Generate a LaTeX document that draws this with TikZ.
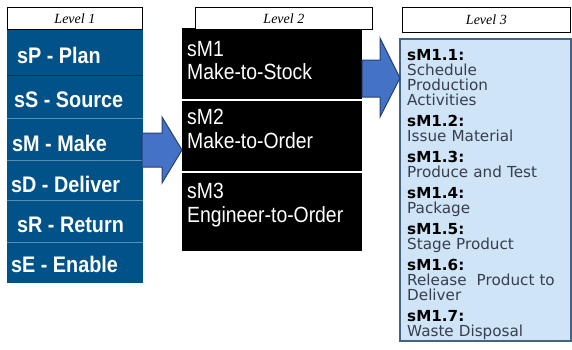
\documentclass[tikz,border=0pt]{standalone}
\usepackage{fontspec}
\setmainfont{Liberation Serif}
\setsansfont{DejaVu Sans}
\newfontfamily\condfont[FakeStretch=0.88]{Liberation Sans}
\usetikzlibrary{positioning}
\definecolor{scorblue}{RGB}{0,82,136}
\definecolor{arrowfill}{RGB}{68,114,196}
\definecolor{arrowline}{RGB}{36,64,120}
\definecolor{lvlthree}{RGB}{207,228,247}
\definecolor{lvlthreeline}{RGB}{70,100,130}
\definecolor{bodytext}{RGB}{55,62,78}
\newcommand{\stephead}[1]{\textcolor{black}{\bfseries #1}}
\setlength{\lineskiplimit}{-10pt}

\begin{document}
\begin{tikzpicture}[x=1pt, y=-1pt,
lvlbox/.style = {draw, line width=0.8pt, fill=white, inner sep=0pt, anchor=north west,
                 font=\itshape\fontsize{14}{15}\selectfont},
lvlone/.style = {anchor=base west, inner sep=0pt, text=white,
                 font=\condfont\bfseries\fontsize{22.5}{24}\selectfont},
lvltwo/.style = {anchor=north west, inner sep=0pt, text=white, align=left,
                 font=\condfont\fontsize{22}{23.5}\selectfont},
blockarrow/.style = {fill=arrowfill, draw=arrowline, line width=1pt, line join=miter}
                    ]
\useasboundingbox (0,0) rectangle (572,349);
% level 1
\fill[scorblue] (7,29) rectangle (143,283);
\foreach \y in {118, 160, 200, 242}
    \draw[scorblue!65!white, line width=0.6pt] (7,\y) -- (143,\y);
\draw[scorblue!60!black, line width=0.6pt] (7,75) -- (143,75);
\node[lvlbox, minimum width=135pt, minimum height=22pt] (lab1) at (7,7) {Level 1};
\node[lvlone] (plan) at (17,63) {sP - Plan};
\node[lvlone] (source) at (14,107) {sS - Source};
\node[lvlone] (make) at (12,151) {sM - Make};
\node[lvlone] (deliver) at (11,192) {sD - Deliver};
\node[lvlone] (return) at (17,232) {sR - Return};
\node[lvlone] (enable) at (11,272) {sE - Enable};
% level 2
\fill[black] (182,28) rectangle (362,251);
\draw[white, line width=1.2pt] (182,100) -- (362,100);
\draw[white, line width=1.2pt] (182,172) -- (362,172);
\node[lvlbox, minimum width=177pt, minimum height=22pt] (lab2) at (195,7) {Level 2};
\node[lvltwo] (mts) at (187,41) {sM1\\Make-to-Stock};
\node[lvltwo] (mto) at (187,109) {sM2\\Make-to-Order};
\node[lvltwo] (eto) at (187,183) {sM3\\Engineer-to-Order};
% level 3
\node[lvlbox, minimum width=168pt, minimum height=25pt] (lab3) at (402,7) {Level 3};
\fill[lvlthree] (400,39) rectangle (571,341);
\draw[lvlthreeline, line width=1.2pt] (400,39) rectangle (571,341);
\node[anchor=north west, inner sep=0pt, align=left, text width=162pt, text=bodytext,
      font=\sffamily\fontsize{15.2}{15}\selectfont] (steps) at (407,49)
    {\stephead{sM1.1:}\\Schedule\\Production\\Activities\\[6pt]
     \stephead{sM1.2:}\\Issue Material\\[6pt]
     \stephead{sM1.3:}\\Produce and Test\\[6pt]
     \stephead{sM1.4:}\\Package\\[6pt]
     \stephead{sM1.5:}\\Stage Product\\[6pt]
     \stephead{sM1.6:}\\Release\ \ Product to\\Deliver\\[6pt]
     \stephead{sM1.7:}\\Waste Disposal};
% arrows
\draw[blockarrow] (142,133) -- (162,133) -- (162,117) -- (182,150)
    -- (162,183) -- (162,167) -- (142,167) -- cycle;
\draw[blockarrow] (362,60) -- (380,60) -- (380,38) -- (400,78)
    -- (380,117) -- (380,97) -- (362,97) -- cycle;
\end{tikzpicture}
\end{document}
